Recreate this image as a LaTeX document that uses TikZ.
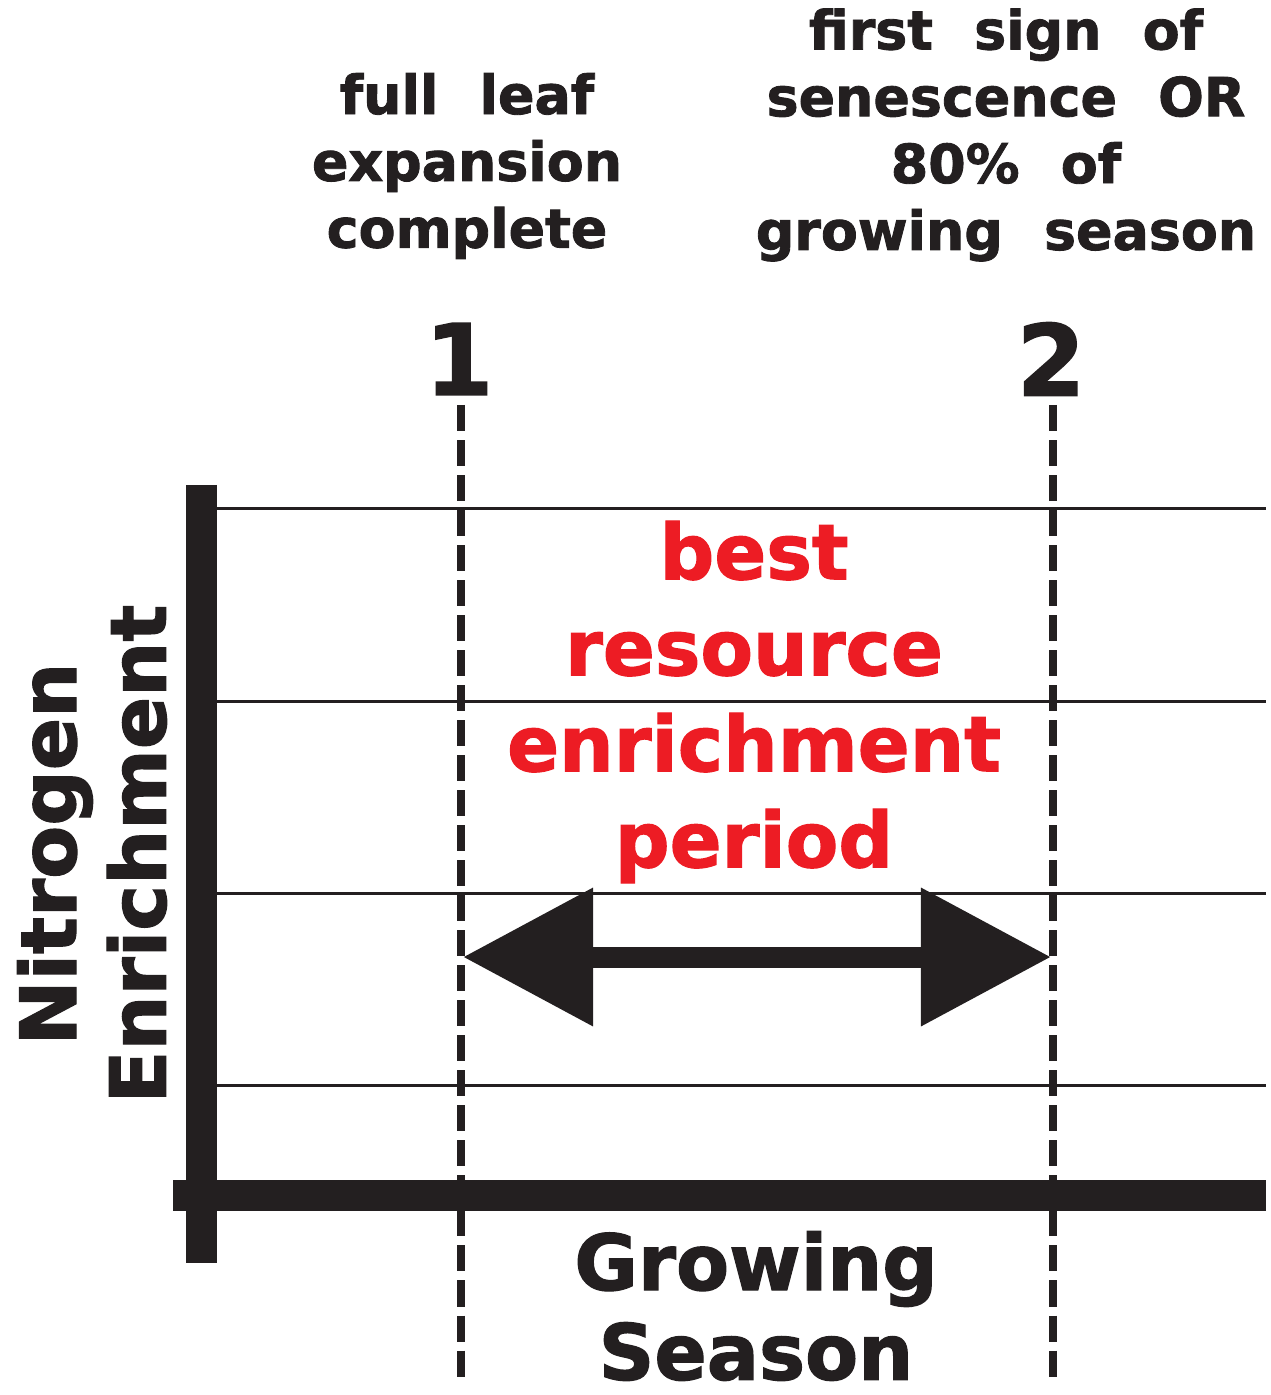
\documentclass[tikz,border=0pt]{standalone}
\usepackage{fontspec}
\setmainfont{DejaVu Sans}[BoldFeatures={FakeBold=1.6}]
\newfontfamily\widefont{DejaVu Sans}[WordSpace=2.2, BoldFeatures={FakeBold=1.6}]
\usetikzlibrary{positioning,arrows.meta}
\definecolor{ink}{HTML}{231F20}
\definecolor{hot}{HTML}{ED1C24}

\begin{document}
\begin{tikzpicture}[x=0.01cm, y=-0.01cm,
    axis/.style={%
      draw=ink, line width=0.31cm, line cap=butt
    },
    gridline/.style={%
      draw=ink, line width=0.03cm
    },
    stage/.style={%
      draw=ink, line width=0.08cm, dash pattern=on 0.26cm off 0.09cm
    },
    period/.style={%
      draw=ink, line width=0.21cm,
      {Triangle[length=1.3cm, width=1.33cm]}-{Triangle[length=1.3cm, width=1.33cm]}
    },
    toplbl/.style={%
      text=ink, inner sep=0, align=center,
      font=\widefont\bfseries\fontsize{15.3}{19}\selectfont
    },
    numlbl/.style={%
      text=ink, inner sep=0, font=\bfseries\fontsize{28}{30}\selectfont
    },
    hotlbl/.style={%
      text=hot, inner sep=0, align=center,
      font=\bfseries\fontsize{21.8}{27.3}\selectfont
    },
    axlbl/.style={%
      text=ink, inner sep=0, align=center,
      font=\bfseries\fontsize{22}{25.5}\selectfont
    }
]
    \useasboundingbox (0,0) rectangle (1271,1395);

    % axes
    \coordinate (ytop) at (201.5,485);
    \coordinate (ybot) at (201.5,1263);
    \coordinate (xl)   at (173,1195.5);
    \coordinate (xr)   at (1266,1195.5);

    % grid
    \foreach \y in {509,701,893,1085}
      \draw[gridline] (217,\y) -- (1266,\y);

    % stages
    \node[numlbl] (one) at (459,359) {1};
    \node[numlbl] (two) at (1051,359) {2};
    \coordinate (onebot) at (461,1385);
    \coordinate (twobot) at (1053,1385);
    \draw[stage] (461,405) -- (onebot);
    \draw[stage] (1053,405) -- (twobot);

    \draw[axis] (ytop) -- (ybot);
    \draw[axis] (xl) -- (xr);

    % labels
    \node[toplbl] (leaf) at (467,166)
      {full leaf\\expansion\\complete};
    \node[toplbl] (senes) at (1006,135)
      {first sign of\\senescence OR\\80\% of\\growing season};

    \node[hotlbl] (best) at (754,702)
      {best\\resource\\enrichment\\period};

    \node[axlbl] (season) at (756,1306) {Growing\\Season};
    \node[axlbl, rotate=90] (nitro) at (92,854) {Nitrogen\\Enrichment};

    % enrichment window
    \coordinate (wl) at (463,957);
    \coordinate (wr) at (1051,957);
    \draw[period] (wl) -- (wr);

\end{tikzpicture}
\end{document}
